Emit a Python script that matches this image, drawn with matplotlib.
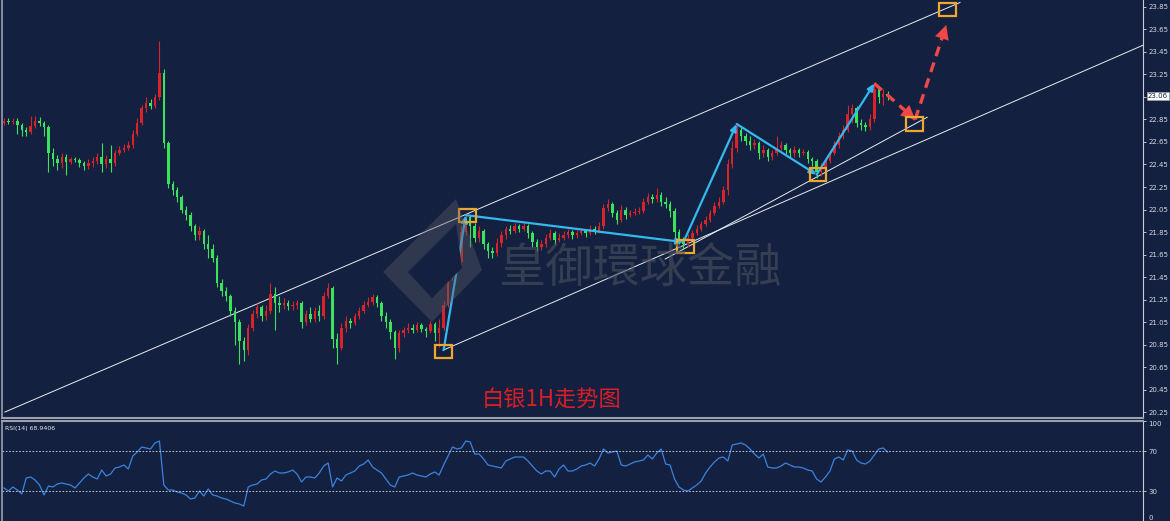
import numpy as np
import matplotlib
matplotlib.use('Agg')
import matplotlib.pyplot as plt
import matplotlib.transforms as mtransforms
from matplotlib.patches import Rectangle, Polygon

# silver 1H candles (close / high / low), open = previous close
closes = [22.84, 22.83, 22.84, 22.80, 22.76, 22.74, 22.79, 22.84, 22.82, 22.78,
          22.55, 22.50, 22.46, 22.52, 22.47, 22.50, 22.49, 22.46, 22.44, 22.46,
          22.48, 22.52, 22.45, 22.50, 22.46, 22.55, 22.58, 22.60, 22.62, 22.72,
          22.82, 22.95, 23.00, 22.97, 23.05, 23.26, 22.64, 22.28, 22.22, 22.16,
          22.05, 22.00, 21.90, 21.82, 21.86, 21.74, 21.70, 21.62, 21.40, 21.33,
          21.28, 21.15, 21.05, 20.88, 20.80, 21.00, 21.12, 21.18, 21.10, 21.15,
          21.30, 21.22, 21.20, 21.22, 21.19, 21.20, 21.22, 21.05, 21.12, 21.08,
          21.15, 21.10, 21.28, 21.35, 20.90, 20.82, 21.00, 21.06, 21.04, 21.10,
          21.15, 21.20, 21.23, 21.27, 21.22, 21.10, 21.05, 20.96, 20.82, 20.95,
          20.98, 21.00, 20.98, 21.02, 20.99, 20.97, 21.03, 20.95, 21.00, 21.20,
          21.45, 21.55, 21.58, 21.85, 21.98, 21.90, 21.80, 21.86, 21.74, 21.68,
          21.66, 21.75, 21.82, 21.88, 21.86, 21.90, 21.88, 21.90, 21.84, 21.76,
          21.72, 21.74, 21.80, 21.84, 21.78, 21.80, 21.82, 21.85, 21.82, 21.84,
          21.86, 21.84, 21.88, 21.86, 21.90, 22.06, 22.10, 22.02, 21.96, 22.05,
          22.00, 22.02, 22.03, 22.04, 22.12, 22.16, 22.14, 22.18, 22.12, 22.10,
          22.04, 21.85, 21.78, 21.74, 21.80, 21.84, 21.88, 21.92, 21.96, 22.02,
          22.08, 22.12, 22.22, 22.45, 22.60, 22.76, 22.70, 22.66, 22.62, 22.64,
          22.55, 22.58, 22.52, 22.55, 22.60, 22.62, 22.58, 22.55, 22.58, 22.55,
          22.56, 22.50, 22.48, 22.38, 22.42, 22.48, 22.55, 22.62, 22.70, 22.76,
          22.90, 22.95, 22.82, 22.80, 22.78, 22.85, 23.12, 23.05, 23.08, 23.06]
highs = [22.86, 22.86, 22.86, 22.86, 22.82, 22.78, 22.88, 22.88, 22.87, 22.84,
         22.80, 22.60, 22.53, 22.55, 22.54, 22.52, 22.52, 22.51, 22.48, 22.50,
         22.52, 22.55, 22.64, 22.53, 22.62, 22.58, 22.61, 22.63, 22.66, 22.76,
         22.86, 22.98, 23.05, 23.03, 23.08, 23.55, 23.30, 22.66, 22.30, 22.25,
         22.18, 22.08, 22.03, 21.92, 21.90, 21.88, 21.82, 21.74, 21.65, 21.43,
         21.36, 21.30, 21.18, 21.08, 20.92, 21.03, 21.16, 21.22, 21.20, 21.20,
         21.40, 21.36, 21.28, 21.26, 21.25, 21.24, 21.25, 21.24, 21.16, 21.18,
         21.18, 21.20, 21.32, 21.40, 21.37, 20.95, 21.04, 21.10, 21.09, 21.13,
         21.18, 21.24, 21.27, 21.30, 21.29, 21.24, 21.14, 21.08, 20.98, 20.98,
         21.01, 21.04, 21.03, 21.05, 21.04, 21.01, 21.06, 21.05, 21.08, 21.24,
         21.62, 21.66, 21.62, 21.90, 22.03, 22.00, 21.93, 21.90, 21.88, 21.76,
         21.72, 21.80, 21.86, 21.90, 21.91, 21.93, 21.92, 21.94, 21.92, 21.86,
         21.79, 21.78, 21.83, 21.88, 21.86, 21.84, 21.86, 21.88, 21.87, 21.87,
         21.89, 21.88, 21.91, 21.90, 21.94, 22.10, 22.14, 22.12, 22.05, 22.09,
         22.07, 22.05, 22.06, 22.07, 22.15, 22.20, 22.19, 22.24, 22.21, 22.16,
         22.13, 22.06, 21.88, 21.81, 21.83, 21.87, 21.91, 21.95, 21.99, 22.05,
         22.12, 22.16, 22.26, 22.50, 22.66, 22.82, 22.79, 22.73, 22.70, 22.68,
         22.66, 22.62, 22.60, 22.58, 22.70, 22.66, 22.64, 22.60, 22.61, 22.60,
         22.59, 22.58, 22.52, 22.50, 22.46, 22.52, 22.58, 22.66, 22.74, 22.80,
         22.98, 22.99, 22.97, 22.85, 22.83, 22.90, 23.18, 23.14, 23.12, 23.10]
lows = [22.80, 22.81, 22.81, 22.72, 22.70, 22.70, 22.72, 22.77, 22.79, 22.70,
        22.38, 22.44, 22.40, 22.42, 22.36, 22.45, 22.47, 22.43, 22.40, 22.41,
        22.43, 22.45, 22.38, 22.42, 22.38, 22.44, 22.53, 22.56, 22.58, 22.60,
        22.70, 22.80, 22.92, 22.94, 22.95, 23.02, 22.60, 22.24, 22.18, 22.12,
        22.02, 21.96, 21.86, 21.78, 21.78, 21.70, 21.62, 21.58, 21.36, 21.28,
        21.24, 21.10, 20.85, 20.68, 20.70, 20.76, 20.97, 21.09, 21.06, 21.07,
        21.12, 20.98, 21.14, 21.17, 21.16, 21.16, 21.17, 21.00, 21.02, 21.05,
        21.05, 21.06, 21.08, 21.26, 20.82, 20.68, 20.80, 20.96, 21.00, 21.02,
        21.08, 21.13, 21.18, 21.20, 21.18, 21.06, 21.00, 20.90, 20.72, 20.78,
        20.92, 20.95, 20.95, 20.96, 20.96, 20.92, 20.95, 20.88, 20.83, 20.98,
        21.18, 21.42, 21.50, 21.56, 21.82, 21.72, 21.76, 21.76, 21.70, 21.62,
        21.62, 21.64, 21.72, 21.79, 21.83, 21.84, 21.85, 21.86, 21.80, 21.72,
        21.68, 21.69, 21.72, 21.78, 21.74, 21.76, 21.78, 21.80, 21.79, 21.80,
        21.82, 21.81, 21.82, 21.83, 21.84, 21.88, 22.04, 21.98, 21.92, 21.94,
        21.97, 21.98, 22.00, 22.01, 22.02, 22.10, 22.11, 22.12, 22.08, 22.06,
        21.98, 21.80, 21.74, 21.70, 21.72, 21.78, 21.82, 21.86, 21.90, 21.94,
        22.00, 22.06, 22.10, 22.18, 22.42, 22.56, 22.66, 22.62, 22.58, 22.59,
        22.50, 22.52, 22.48, 22.49, 22.53, 22.58, 22.54, 22.51, 22.52, 22.52,
        22.53, 22.46, 22.44, 22.33, 22.35, 22.40, 22.46, 22.53, 22.60, 22.68,
        22.74, 22.82, 22.78, 22.76, 22.75, 22.76, 22.83, 23.00, 22.98, 23.02]
first_open = 22.82
rsi = [33, 30, 34, 31, 27, 43, 44, 41, 36, 26,
       35, 34, 37, 38, 37, 36, 33, 38, 43, 47,
       44, 42, 51, 45, 47, 53, 54, 56, 52, 65,
       69, 74, 73, 72, 78, 80, 36, 31, 31, 29,
       28, 26, 22, 23, 30, 25, 32, 26, 25, 23,
       22, 20, 18, 17, 15, 34, 36, 37, 41, 42,
       47, 50, 48, 48, 49, 51, 47, 39, 44, 44,
       43, 48, 55, 58, 34, 43, 40, 46, 48, 50,
       55, 57, 61, 54, 51, 48, 42, 36, 34, 44,
       45, 46, 48, 46, 45, 44, 47, 49, 46, 56,
       65, 74, 72, 73, 80, 79, 67, 67, 62, 56,
       55, 54, 53, 60, 62, 64, 64, 64, 60, 55,
       50, 47, 50, 50, 44, 52, 56, 50, 50, 52,
       55, 56, 58, 55, 62, 72, 68, 69, 70, 56,
       55, 57, 59, 60, 61, 66, 62, 68, 72, 57,
       56, 42, 34, 31, 30, 33, 36, 40, 48, 54,
       59, 63, 64, 60, 76, 77, 78, 76, 72, 67,
       63, 67, 54, 53, 53, 55, 58, 56, 54, 54,
       53, 51, 50, 42, 39, 44, 50, 62, 64, 61,
       71, 70, 61, 58, 57, 60, 66, 72, 73, 69]
rsi_last = 68.9406
last_price = 23.06

price_ticks = [20.25, 20.45, 20.65, 20.85, 21.05, 21.25, 21.45, 21.65, 21.85,
               22.05, 22.25, 22.45, 22.65, 22.85, 23.05, 23.25, 23.45, 23.65, 23.85]
price_labels = ['20.25', '20.45', '20.65', '20.85', '21.05', '21.25', '21.45', '21.65', '21.85',
                '22.05', '22.25', '22.45', '22.65', '22.85', '', '23.25', '23.45', '23.65', '23.85']
rsi_ticks = [0, 30, 70, 100]

# drawn analysis (candle index, price)
wave_points = [(99, 20.80), (104, 22.00), (153, 21.76), (165, 22.81), (183, 22.36), (196, 23.17)]
forecast_points = [(196, 23.17), (205.2, 22.85), (212.2, 23.69)]
box_points = [(98.9, 20.79), (104.3, 22.00), (153.4, 21.72), (183.3, 22.36), (205.0, 22.81), (212.4, 23.83)]
channel_upper = [(0.2, 20.25), (215.3, 23.89)]
channel_lower = [(98.9, 20.80), (256.5, 23.51)]
channel_inner = [(148.9, 21.61), (207.9, 22.87)]

bg = '#13203f'
up_col = '#d8232a'
down_col = '#3be35c'
blue = '#35b8ee'
orange = '#efa72c'
red_fc = '#f04848'

W, H = 1170, 521
fig = plt.figure(figsize=(W / 100, H / 100), dpi=100, facecolor=bg)
ax = fig.add_axes([2 / W, 103 / H, 1141 / W, 418 / H], facecolor=bg)
ax2 = fig.add_axes([2 / W, 0, 1141 / W, 100 / H], facecolor=bg)

# candles
opens = [first_open] + closes[:-1]
x = np.arange(len(closes))
o = np.array(opens)
c = np.array(closes)
cols = [up_col if cc >= oo else down_col for oo, cc in zip(o, c)]
ax.vlines(x, lows, highs, colors=cols, lw=0.8, zorder=3)
body = np.maximum(np.abs(c - o), 0.008)
ax.bar(x, body, bottom=np.minimum(o, c), width=0.55, color=cols, linewidth=0, zorder=3)

# channels
for line in (channel_upper, channel_lower, channel_inner):
    ax.plot([p[0] for p in line], [p[1] for p in line], color='#e8ecf2', lw=0.7, zorder=2)

# wave arrows
for p1, p2 in zip(wave_points[:-1], wave_points[1:]):
    ax.annotate('', xy=p2, xytext=p1, zorder=5,
                arrowprops=dict(arrowstyle='-|>,head_length=0.4,head_width=0.18',
                                color=blue, lw=1.6, shrinkA=0, shrinkB=0))

# forecast path
for p1, p2 in zip(forecast_points[:-1], forecast_points[1:]):
    ax.plot([p1[0], p2[0]], [p1[1], p2[1]], color=red_fc, lw=2.4, ls=(0, (3, 2)), zorder=5)
    mid = (p1[0] + 0.78 * (p2[0] - p1[0]), p1[1] + 0.78 * (p2[1] - p1[1]))
    ax.annotate('', xy=p2, xytext=mid, zorder=6,
                arrowprops=dict(arrowstyle='-|>,head_length=1.0,head_width=0.5',
                                color=red_fc, lw=0.1, shrinkA=0, shrinkB=0))

# boxes
for bx, by in box_points:
    ax.add_patch(Rectangle((bx - 1.9, by - 0.058), 3.8, 0.116, fill=False,
                           ec=orange, lw=1.6, zorder=7))

# watermark
logo_outer = [(383, 272), (456, 199), (482, 270), (432, 322)]
logo_inner = [(408, 272), (456, 224), (462, 268), (432, 298)]
to_fig = lambda pts: [(px / W, 1 - py / H) for px, py in pts]
fig.patches.append(Polygon(to_fig(logo_outer), closed=True, fc='#5a5d66', alpha=0.4,
                           ec='none', transform=fig.transFigure, zorder=1))
fig.patches.append(Polygon(to_fig(logo_inner), closed=True, fc=bg, alpha=1.0,
                           ec='none', transform=fig.transFigure, zorder=1))
fig.text(640 / W, 1 - 270 / H, '皇御環球金融', fontsize=34, color='#4c515c', alpha=0.6,
         family=['Noto Sans CJK TC', 'Noto Sans CJK SC'], ha='center', va='center')

fig.text(552 / W, 1 - 400 / H, '白银1H走势图', fontsize=16, color='#d81e26',
         family=['Noto Sans CJK SC', 'DejaVu Sans'], ha='center', va='center')

# axes styling
ax.set_xlim(-0.45, 256.5)
ax2.set_xlim(-0.45, 256.5)
ax.set_ylim(20.197, 23.912)
ax2.set_ylim(0, 100)

for a in (ax, ax2):
    a.set_xticks([])
    a.yaxis.tick_right()
    a.tick_params(axis='y', colors='#d6dae2', labelsize=5, length=2, width=0.6, pad=2)
    a.spines['top'].set_visible(False)
    a.spines['left'].set_color('#9aa0ac')
    a.spines['left'].set_linewidth(1.2)
    a.spines['right'].set_color('#c8ccd4')
    a.spines['right'].set_linewidth(0.8)
    a.spines['bottom'].set_color('#9aa0ac')
    a.spines['bottom'].set_linewidth(1.5)
ax2.spines['top'].set_visible(True)
ax2.spines['top'].set_color('#9aa0ac')
ax2.spines['top'].set_linewidth(1.5)
ax2.spines['bottom'].set_visible(False)

ax.set_yticks(price_ticks)
ax.set_yticklabels(price_labels)
ax.text(1.004, last_price, '23.06', transform=mtransforms.blended_transform_factory(ax.transAxes, ax.transData),
        fontsize=5, color='#13203f', va='center', ha='left',
        bbox=dict(boxstyle='square,pad=0.15', fc='white', ec='#9aa0ac', lw=0.5))

# RSI
ax2.plot(x, rsi, color='#3b82e0', lw=0.9)
ax2.axhline(70, color='#d6dae2', lw=0.6, ls=(0, (2, 2)))
ax2.axhline(30, color='#d6dae2', lw=0.6, ls=(0, (2, 2)))
ax2.set_yticks(rsi_ticks)
ax2.set_yticklabels([str(t) for t in rsi_ticks])
for lbl in ax2.get_yticklabels():
    if lbl.get_text() == '100':
        lbl.set_va('top')
    elif lbl.get_text() == '0':
        lbl.set_va('bottom')
ax2.text(0.003, 0.95, 'RSI(14) %.4f' % rsi_last, transform=ax2.transAxes, fontsize=4.5,
         color='#e6e9ef', va='top', ha='left')

fig.savefig('out.png', dpi=100, facecolor=bg)
